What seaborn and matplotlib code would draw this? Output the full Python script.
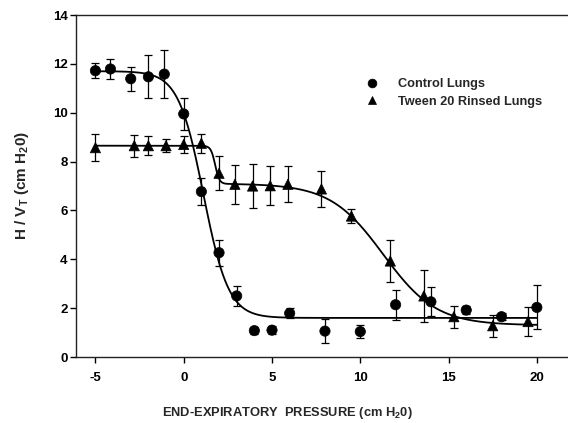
import numpy as np
import pandas as pd
import matplotlib
matplotlib.use("Agg")
import matplotlib.pyplot as plt
import seaborn as sns

# ---- data ----
control_x = [-5, -4.15, -3, -2, -1.1, 0, 1, 2, 3, 4, 5, 6, 8, 10, 12, 14, 16, 18, 20]
control_y = [11.72, 11.79, 11.39, 11.47, 11.58, 9.95, 6.77, 4.27, 2.50, 1.08, 1.10, 1.79,
             1.06, 1.04, 2.14, 2.26, 1.92, 1.65, 2.03]
control_err = [0.30, 0.42, 0.50, 0.88, 0.97, 0.64, 0.55, 0.53, 0.40, 0.15, 0.15, 0.20,
               0.50, 0.25, 0.62, 0.60, 0.15, 0.15, 0.90]

tween_x = [-5, -2.8, -2, -1, 0, 1, 2, 2.9, 3.9, 4.9, 5.9, 7.8, 9.5, 11.7, 13.6, 15.3, 17.5, 19.5]
tween_y = [8.57, 8.65, 8.65, 8.65, 8.70, 8.75, 7.52, 7.07, 7.00, 7.01, 7.07, 6.88, 5.77,
           3.93, 2.50, 1.65, 1.28, 1.45]
tween_err = [0.55, 0.45, 0.40, 0.27, 0.36, 0.38, 0.70, 0.80, 0.90, 0.80, 0.73, 0.75, 0.30,
             0.84, 1.05, 0.45, 0.45, 0.58]

# fitted sigmoid parameters
control_fit = dict(top=11.7, bottom=1.6, x0=1.12, k=0.71)
tween_fit = dict(top1=8.65, top2=7.1, bottom=1.3, x1=1.78, k1=0.12, x2=11.3, k2=1.5)

legend_labels = ["Control Lungs", "Tween 20 Rinsed Lungs"]
x_ticks = [-5, 0, 5, 10, 15, 20]
y_ticks = [0, 2, 4, 6, 8, 10, 12, 14]

# ---- style ----
sns.set_style("ticks")
plt.rcParams["font.family"] = ["Liberation Sans", "DejaVu Sans"]
plt.rcParams["font.weight"] = "bold"
plt.rcParams["axes.unicode_minus"] = False
plt.rcParams["mathtext.fontset"] = "custom"
plt.rcParams["mathtext.rm"] = "Liberation Sans:bold"
plt.rcParams["mathtext.default"] = "rm"

fig = plt.figure(figsize=(5.68, 4.23), dpi=100)
ax = fig.add_axes([76 / 568, 66 / 423, 505 / 568, 342 / 423])

# fit curves
xs = np.linspace(-5, 20, 600)
c = control_fit
ctrl_curve = c["bottom"] + (c["top"] - c["bottom"]) / (1 + np.exp((xs - c["x0"]) / c["k"]))
t = tween_fit
tw_curve = (t["bottom"] + (t["top2"] - t["bottom"]) / (1 + np.exp((xs - t["x2"]) / t["k2"]))
            + (t["top1"] - t["top2"]) / (1 + np.exp((xs - t["x1"]) / t["k1"])))
curves = pd.DataFrame({"x": np.concatenate([xs, xs]),
                       "y": np.concatenate([ctrl_curve, tw_curve]),
                       "grp": [legend_labels[0]] * len(xs) + [legend_labels[1]] * len(xs)})
sns.lineplot(data=curves, x="x", y="y", units="grp", estimator=None, color="black",
             linewidth=1.3, ax=ax, legend=False)

# error bars
ax.errorbar(control_x, control_y, yerr=control_err, fmt="none", ecolor="black",
            elinewidth=0.9, capsize=3, capthick=0.9)
ax.errorbar(tween_x, tween_y, yerr=tween_err, fmt="none", ecolor="black",
            elinewidth=0.9, capsize=3, capthick=0.9)

pts = pd.DataFrame({"x": control_x + tween_x, "y": control_y + tween_y,
                    "grp": [legend_labels[0]] * len(control_x) + [legend_labels[1]] * len(tween_x)})
sns.scatterplot(data=pts, x="x", y="y", hue="grp", style="grp",
                markers={legend_labels[0]: "o", legend_labels[1]: "^"},
                palette={legend_labels[0]: "black", legend_labels[1]: "black"},
                s=55, edgecolor="black", linewidth=0.5, ax=ax, zorder=5)

ax.set_xlim(-6.1, 22.5)
ax.set_ylim(0, 14)
ax.set_xticks(x_ticks)
ax.set_yticks(y_ticks)
ax.tick_params(direction="out", length=4, width=1, labelsize=9.5, colors="black")
ax.tick_params(axis="x", pad=7)
ax.tick_params(axis="y", pad=2)
for lab in ax.get_xticklabels() + ax.get_yticklabels():
    lab.set_fontweight("bold")
for s in ax.spines.values():
    s.set_visible(True)
    s.set_linewidth(1.0)
    s.set_color("#222222")

ax.set_xlabel("END-EXPIRATORY  PRESSURE (cm H$_2$0)", fontsize=9.3, fontweight="bold")
ax.xaxis.set_label_coords((287 - 76) / 505, -0.14)
ax.set_ylabel("H / V$_\\mathrm{T}$ (cm H$_2$0)", fontsize=11, fontweight="bold")
ax.yaxis.set_label_coords(-0.09, 0.5)

leg = ax.legend(loc="upper left", bbox_to_anchor=(0.55, 0.83), frameon=False,
                fontsize=9.2, handletextpad=1.1, labelspacing=0.42, markerscale=0.85,
                borderaxespad=0)
for txt in leg.get_texts():
    txt.set_fontweight("bold")

fig.savefig("out.png", dpi=100)
